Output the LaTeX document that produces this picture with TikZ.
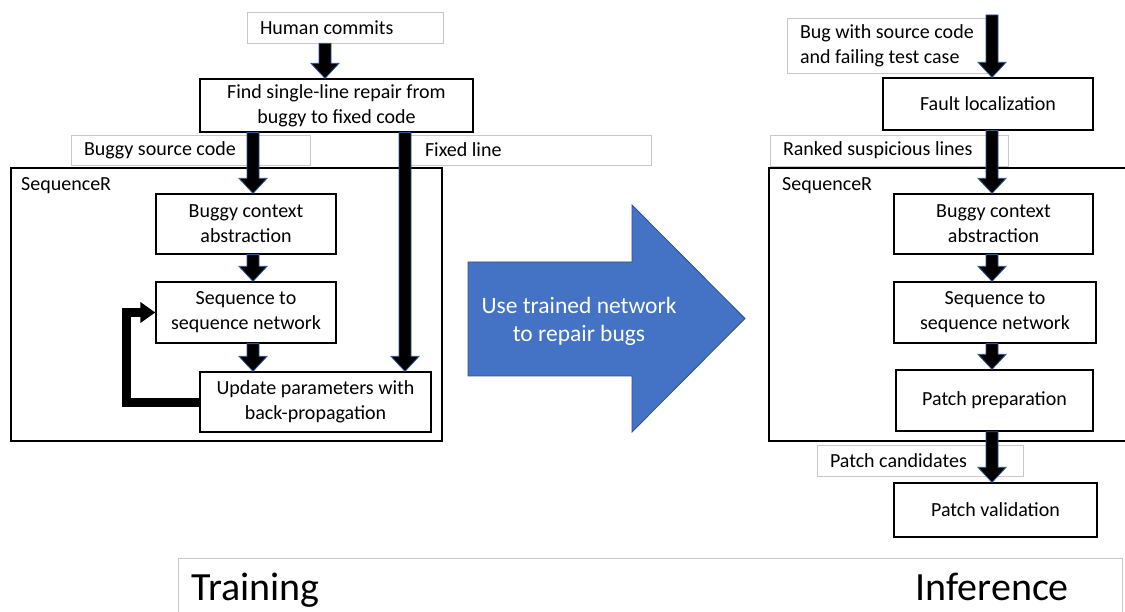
\documentclass[tikz,border=0pt]{standalone}
\usepackage{fontspec}
\setmainfont{Carlito}
\usetikzlibrary{arrows.meta,calc}
\definecolor{arrowedge}{HTML}{2F5597}
\definecolor{bigblue}{HTML}{4472C4}
\definecolor{bigedge}{HTML}{2F528F}
\definecolor{taggray}{HTML}{C8C8C8}

% Black block arrow with a thin blue rim, from point #1 straight down to point #2
\newcommand\blockarrow[2]{%
  \filldraw[blockarr] let \p1=(#1), \p2=(#2) in
    (\x1-6pt,\y1) -- (\x1-6pt,\y2+15pt) -- (\x1-14pt,\y2+15pt) -- (\x1,\y2)
    -- (\x1+14pt,\y2+15pt) -- (\x1+6pt,\y2+15pt) -- (\x1+6pt,\y1) -- cycle;}

\tikzset{
  stepbox/.style={draw=black, line width=1.3pt, fill=white, align=center,
    inner sep=0pt, font=\fontsize{20}{25}\selectfont},
  tagbox/.style={draw=taggray, line width=0.8pt, fill=white, align=left,
    inner xsep=13pt, inner ysep=0pt, font=\fontsize{20}{25}\selectfont,
    execute at begin node={\spaceskip=0pt\xspaceskip=0pt}},
  outerbox/.style={draw=black, line width=1.2pt, inner sep=0pt},
  grouplabel/.style={anchor=base west, inner sep=0pt, font=\fontsize{20}{24}\selectfont},
  blockarr/.style={fill=black, draw=arrowedge, line width=0.8pt},
  loopline/.style={draw=black, line width=9pt,
    -{Triangle[width=20pt,length=15pt]}},
  phasetext/.style={anchor=base west, inner sep=0pt, font=\fontsize{40}{42}\selectfont},
}

\begin{document}
\begin{tikzpicture}[x=1pt,y=-1pt]
\useasboundingbox (0,0) rectangle (1125,612);

% ---------------- Training ----------------
\node[tagbox, text width=170pt, minimum height=31pt] (human) at (345,27.5) {Human commits};
\node[stepbox, minimum width=273pt, minimum height=53pt] (find) at (336.5,105.5)
  {Find single-line repair from\\buggy to fixed code};
\node[tagbox, text width=213pt, minimum height=30pt] (bsc) at (190.5,150) {Buggy source code};
\node[tagbox, inner xsep=15pt, text width=211pt, minimum height=30pt] (fixed) at (530.5,150) {Fixed line};

\node[outerbox, minimum width=431pt, minimum height=273pt] (seqL) at (226.5,304.5) {};
\node[grouplabel] (seqLlab) at (21,191) {SequenceR};

\node[stepbox, minimum width=180pt, minimum height=60pt] (bcaL) at (246,224)
  {Buggy context\\abstraction};
\node[stepbox, minimum width=180pt, minimum height=61pt] (s2sL) at (246,312.5)
  {Sequence to\\sequence network};
\node[stepbox, minimum width=231pt, minimum height=60pt] (upd) at (315.5,402)
  {Update parameters with\\back-propagation};

\coordinate (xa) at (325,0);
\coordinate (xb) at (253,0);
\coordinate (xc) at (405,0);
\blockarrow{human.south -| xa}{find.north -| xa}
\blockarrow{find.south -| xb}{bcaL.north -| xb}
\blockarrow{find.south -| xc}{upd.north -| xc}
\blockarrow{bcaL.south -| xb}{s2sL.north -| xb}
\blockarrow{s2sL.south -| xb}{upd.north -| xb}

\draw[loopline] (upd.west) -- ++(-73,0) |- (s2sL.west);

% ---------------- Transition arrow ----------------
\filldraw[fill=bigblue, draw=bigedge, line width=0.8pt]
  (468,262) -- (632,262) -- (632,205) -- (745,318.5) -- (632,432) -- (632,376)
  -- (468,376) -- cycle;
\node[align=center, text=white, font=\fontsize{23.5}{28}\selectfont] (usenet) at (579,321)
  {Use trained network\\to repair bugs};

% ---------------- Inference ----------------
\node[tagbox, text width=180pt, inner xsep=13pt, minimum height=55pt] (bug) at (890,45.5)
  {Bug with source code\\and failing test case};
\node[stepbox, minimum width=210pt, minimum height=52pt] (fault) at (988,104) {Fault localization};
\node[tagbox, text width=212pt, minimum height=31pt] (rsl) at (889,150.5) {Ranked suspicious lines};

\node[outerbox, minimum width=370pt, minimum height=273pt] (seqR) at (954,304.5) {};
\node[grouplabel] (seqRlab) at (782,191) {SequenceR};

\node[stepbox, minimum width=199pt, minimum height=60pt] (bcaR) at (993.5,224)
  {Buggy context\\abstraction};
\node[stepbox, minimum width=202pt, minimum height=61pt] (s2sR) at (995,312.5)
  {Sequence to\\sequence network};
\node[stepbox, minimum width=197pt, minimum height=61pt] (prep) at (994.5,400.5)
  {Patch preparation};
\node[tagbox, text width=180pt, minimum height=31pt] (cand) at (920,460.5) {Patch candidates};
\node[stepbox, minimum width=203pt, minimum height=54pt] (valid) at (995.5,510) {Patch validation};

\coordinate (xr) at (992,0);
\coordinate (bugtop) at (992,15);
\blockarrow{bugtop}{fault.north -| xr}
\blockarrow{fault.south -| xr}{bcaR.north -| xr}
\blockarrow{bcaR.south -| xr}{s2sR.north -| xr}
\blockarrow{s2sR.south -| xr}{prep.north -| xr}
\blockarrow{prep.south -| xr}{valid.north -| xr}

% ---------------- Phase captions ----------------
\node[draw=taggray, line width=0.8pt, minimum width=944pt, minimum height=70pt,
  inner sep=0pt] (phases) at (650,593) {};
\node[phasetext] (train) at (191,600) {Training};
\node[phasetext, anchor=base east] (infer) at (1069,600) {Inference};
\end{tikzpicture}
\end{document}
